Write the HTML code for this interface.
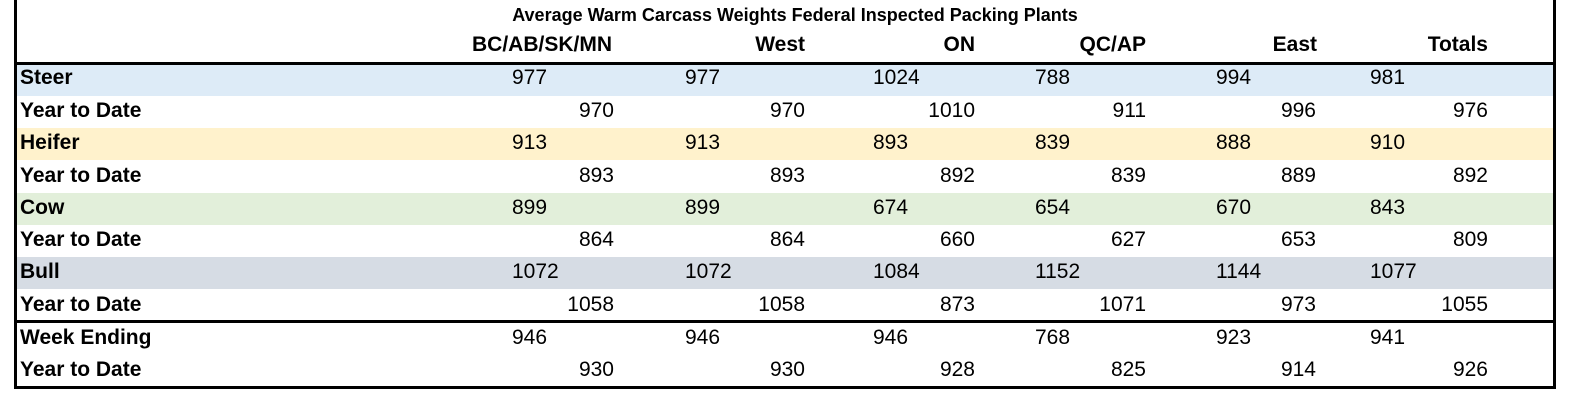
<!DOCTYPE html>
<html><head><meta charset="utf-8"><style>
body{margin:0;width:1572px;height:407px;background:#fff;position:relative;overflow:hidden;font-family:"Liberation Sans",sans-serif;color:#000}
.b{position:absolute;background:#000}
.band{position:absolute;left:17px;width:1536px;height:32px}
.t{position:absolute;font-size:21px;line-height:24px;white-space:nowrap}
.l{font-weight:bold;left:20px}
.r{transform:translateX(-100%)}
.h{font-weight:bold}
</style></head><body>
<div class="band" style="top:64px;background:#ddebf7"></div>
<div class="band" style="top:128px;background:#fff2cc"></div>
<div class="band" style="top:193px;background:#e2efda"></div>
<div class="band" style="top:257px;background:#d6dce4"></div>
<div class="b" style="left:14px;top:0;width:3px;height:389px"></div>
<div class="b" style="left:1553px;top:0;width:3px;height:389px"></div>
<div class="b" style="left:14px;top:62px;width:1542px;height:3px"></div>
<div class="b" style="left:14px;top:320px;width:1542px;height:3px"></div>
<div class="b" style="left:14px;top:386px;width:1542px;height:3px"></div>
<div class="t h" style="left:795px;top:3px;transform:translateX(-50%);font-size:18px">Average Warm Carcass Weights Federal Inspected Packing Plants</div>
<div class="t h r" style="left:612px;top:33px">BC/AB/SK/MN</div>
<div class="t h r" style="left:805px;top:33px">West</div>
<div class="t h r" style="left:975px;top:33px">ON</div>
<div class="t h r" style="left:1146px;top:33px">QC/AP</div>
<div class="t h r" style="left:1317px;top:33px">East</div>
<div class="t h r" style="left:1488px;top:33px">Totals</div>
<div id="rows"></div>
<script>
var rows=[["Steer",[977,977,1024,788,994,981],0],["Year to Date",[970,970,1010,911,996,976],1],
["Heifer",[913,913,893,839,888,910],0],["Year to Date",[893,893,892,839,889,892],1],
["Cow",[899,899,674,654,670,843],0],["Year to Date",[864,864,660,627,653,809],1],
["Bull",[1072,1072,1084,1152,1144,1077],0],["Year to Date",[1058,1058,873,1071,973,1055],1],
["Week Ending",[946,946,946,768,923,941],0],["Year to Date",[930,930,928,825,914,926],1]];
var L=[512,685,873,1035,1216,1370],R=[614,805,975,1146,1316,1488];
var tops=[66,99,131,164,196,228,260,293,326,358];var h="";
rows.forEach(function(r,i){var y=tops[i];
h+='<div class="t l" style="top:'+y+'px">'+r[0]+'</div>';
r[1].forEach(function(v,j){h+=r[2]?'<div class="t r" style="left:'+R[j]+'px;top:'+y+'px">'+v+'</div>':'<div class="t" style="left:'+L[j]+'px;top:'+y+'px">'+v+'</div>';});});
document.getElementById('rows').innerHTML=h;
</script>
</body></html>
